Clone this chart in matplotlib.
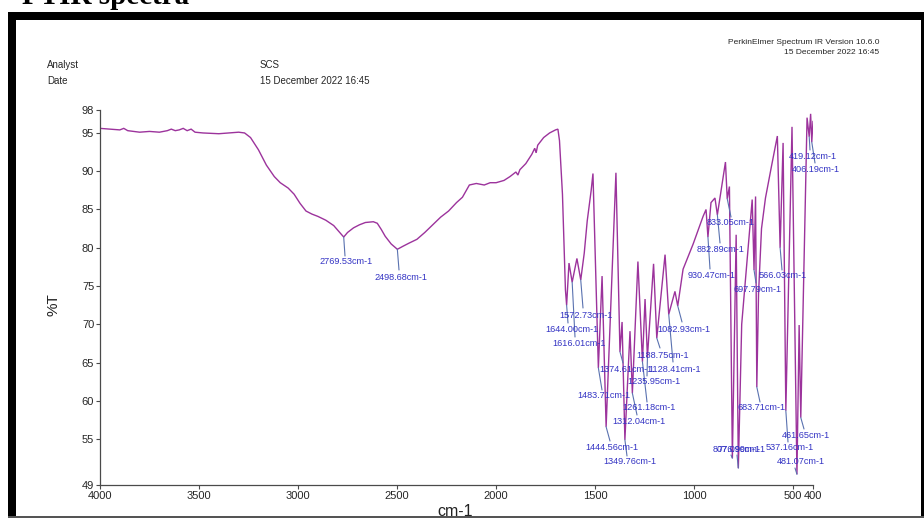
import matplotlib
matplotlib.use("Agg")
import matplotlib.pyplot as plt
from matplotlib.patches import Rectangle

W, H, DPI = 924, 518, 100

# ---- spectrum (wavenumber in cm-1, %T) ----
wavenumber = [
    4000, 3950, 3900, 3880, 3860, 3800, 3750, 3700, 3660, 3640, 3620, 3600,
    3580, 3560, 3540, 3520, 3480, 3400, 3300, 3270, 3240, 3200, 3160, 3120,
    3090, 3050, 3020, 2990, 2960, 2930, 2900, 2860, 2820, 2790, 2769.53,
    2750, 2720, 2690, 2660, 2620, 2600, 2580, 2560, 2530, 2498.68, 2470,
    2440, 2400, 2360, 2320, 2280, 2240, 2200, 2170, 2150, 2135, 2100, 2060,
    2030, 2000, 1960, 1930, 1900, 1890, 1880, 1850, 1820, 1805, 1798, 1790,
    1760, 1730, 1700, 1688, 1680, 1665, 1650, 1644.00, 1632, 1616.01, 1592,
    1572.73, 1555, 1540, 1520, 1511, 1495, 1483.71, 1465, 1444.56, 1395,
    1374.61, 1364, 1349.76, 1324, 1312.04, 1284, 1261.18, 1248, 1235.95,
    1205, 1188.75, 1147, 1128.41, 1097, 1082.93, 1056, 1005, 955, 940,
    930.47, 915, 895, 882.89, 842, 833.05, 822, 807.09, 788, 776.99, 760,
    707, 697.79, 690, 683.71, 675, 660, 640, 610, 580, 566.03, 551, 537.16,
    506, 481.07, 470, 461.65, 430, 419.12, 412, 406.19, 400,
]
transmittance = [
    95.6, 95.5, 95.4, 95.6, 95.3, 95.1, 95.2, 95.1, 95.3, 95.5, 95.3, 95.4,
    95.6, 95.3, 95.5, 95.1, 95.0, 94.9, 95.1, 95.0, 94.4, 92.8, 90.8, 89.3,
    88.5, 87.8, 87.0, 85.8, 84.8, 84.4, 84.1, 83.6, 82.9, 82.0, 81.4,
    82.0, 82.6, 83.0, 83.3, 83.4, 83.2, 82.4, 81.5, 80.5, 79.8, 80.2,
    80.6, 81.1, 82.0, 83.0, 84.0, 84.8, 85.9, 86.6, 87.5, 88.2, 88.4, 88.2,
    88.5, 88.5, 88.8, 89.3, 89.9, 89.5, 90.2, 91.0, 92.2, 93.0, 92.4, 93.4,
    94.4, 95.0, 95.4, 95.5, 94.0, 87.0, 74.5, 72.5, 78.0, 75.5, 78.6,
    75.8, 79.3, 83.5, 87.5, 89.7, 75.0, 64.3, 76.3, 56.6, 89.8,
    66.4, 70.3, 54.9, 69.1, 61.0, 78.2, 65.1, 73.3, 65.7,
    77.9, 68.2, 79.1, 71.3, 74.3, 72.4, 77.2, 80.5, 84.1, 85.0,
    81.4, 85.9, 86.5, 84.3, 91.2, 86.4, 88.0, 52.5, 81.7, 51.2, 70.0,
    86.3, 77.1, 86.7, 61.8, 74.0, 82.5, 86.5, 90.6, 94.6, 80.0, 93.7, 58.7,
    95.8, 50.4, 69.9, 57.8, 97.0, 94.5, 97.5, 93.8, 96.5,
]

# ---- picked peaks ----
peak_wn = [
    2769.53, 2498.68, 1572.73, 1644.00, 1616.01, 1082.93, 1188.75, 1374.61,
    1128.41, 1235.95, 1483.71, 1261.18, 1312.04, 1444.56, 1349.76, 930.47,
    882.89, 833.05, 697.79, 566.03, 419.12, 406.19, 683.71, 461.65, 537.16,
    481.07, 807.09, 776.99,
]

# label text anchor (left, middle) and leader end, in figure pixels from top-left
label_xy = [
    (319, 262), (374, 277), (559, 315), (545, 329), (552, 343), (657, 329),
    (636, 355), (599, 369), (648, 369), (627, 382), (577, 396), (622, 408),
    (612, 422), (585, 447), (603, 462), (688, 275), (697, 249), (707, 223),
    (733, 289), (759, 276), (789, 156), (792, 169), (737, 408), (782, 435),
    (766, 448), (777, 462), (713, 450), (718, 450),
]
leader_end = [
    (345, 256), (399, 270), (583, 308), (568, 323), (575, 337), (682, 322),
    (660, 348), (623, 363), (673, 362), (647, 376), (602, 390), (647, 402),
    (637, 415), (610, 441), (627, 456), (710, 269), (720, 243), (731, 217),
    (756, 283), (782, 270), (810, 150), (815, 163), (760, 402), (804, 429),
    (788, 442), (795, 468), (731, 455), (737, 455),
]

xticks = [4000, 3500, 3000, 2500, 2000, 1500, 1000, 500, 400]
yticks = [49, 55, 60, 65, 70, 75, 80, 85, 90, 95, 98]

LINE = "#9c339c"
LABEL = "#3434c4"
LEADER = "#5a72b0"
AXIS = "#4a4a4a"
SANS = ["Liberation Sans", "DejaVu Sans"]

plt.rcParams["font.family"] = SANS

fig = plt.figure(figsize=(W / DPI, H / DPI), dpi=DPI)
fig.patch.set_facecolor("white")

# plot area in pixels: x 100..813, y 110..485
ax = fig.add_axes([100 / W, 1 - 485 / H, 713 / W, 375 / H])
ax.plot(wavenumber, transmittance, color=LINE, lw=1.0, solid_joinstyle="miter")
ax.set_xlim(4000, 400)
ax.set_ylim(49, 98)
ax.set_xticks(xticks)
ax.set_yticks(yticks)
ax.set_xticklabels([str(v) for v in xticks])
ax.set_yticklabels([str(v) for v in yticks])
for s in ("top", "right"):
    ax.spines[s].set_visible(False)
for s in ("left", "bottom"):
    ax.spines[s].set_color(AXIS)
    ax.spines[s].set_linewidth(0.9)
ax.tick_params(direction="out", length=3, width=0.8, color=AXIS,
               labelsize=8, labelcolor="#262626", pad=1.2)
ax.set_facecolor("none")

T_at = dict(zip(wavenumber, transmittance))
for wn, (tx, ty), (lx, ly) in zip(peak_wn, label_xy, leader_end):
    ax.annotate("", xy=(wn, T_at[wn]), xycoords="data",
                xytext=(lx, H - ly), textcoords="figure pixels",
                arrowprops=dict(arrowstyle="-", color=LEADER, lw=0.8,
                                shrinkA=0, shrinkB=0))
    fig.text(tx / W, 1 - ty / H, f"{wn:.2f}cm-1", color=LABEL,
             fontsize=6.6, ha="left", va="center")

# axis titles
fig.text(53 / W, 1 - 305 / H, "%T", rotation=90, fontsize=11,
         ha="center", va="center", color="#222222")
fig.text(455 / W, 1 - 512 / H, "cm-1", fontsize=11.5,
         ha="center", va="center", color="#222222")

# header block
hdr = dict(fontsize=7.0, color="#262626", va="center", ha="left")
fig.text(47 / W, 1 - 65 / H, "Analyst", **hdr)
fig.text(47 / W, 1 - 81 / H, "Date", **hdr)
fig.text(260 / W, 1 - 65 / H, "SCS", **hdr)
fig.text(260 / W, 1 - 81 / H, "15 December 2022 16:45", **hdr)
fig.text(879 / W, 1 - 42 / H, "PerkinElmer Spectrum IR Version 10.6.0",
         fontsize=6.0, color="#262626", ha="right", va="center")
fig.text(879 / W, 1 - 53 / H, "15 December 2022 16:45",
         fontsize=6.0, color="#262626", ha="right", va="center")

# page title above the frame
fig.text(22 / W, 1 - 4 / H, "FTIR spectra", fontsize=21, fontweight="bold",
         family=["Liberation Serif", "DejaVu Serif"], color="black",
         ha="left", va="baseline")

# black frame around the printout
def bar(x0, y0, x1, y1, color="black"):
    fig.add_artist(Rectangle((x0 / W, 1 - y1 / H), (x1 - x0) / W, (y1 - y0) / H,
                             transform=fig.transFigure, facecolor=color,
                             edgecolor="none", zorder=10))

bar(8, 12, 924, 20)
bar(8, 12, 15.5, 518)
bar(921, 12, 924, 518)
bar(8, 516, 924, 518, color="#555555")

fig.savefig("out.png", dpi=DPI)
